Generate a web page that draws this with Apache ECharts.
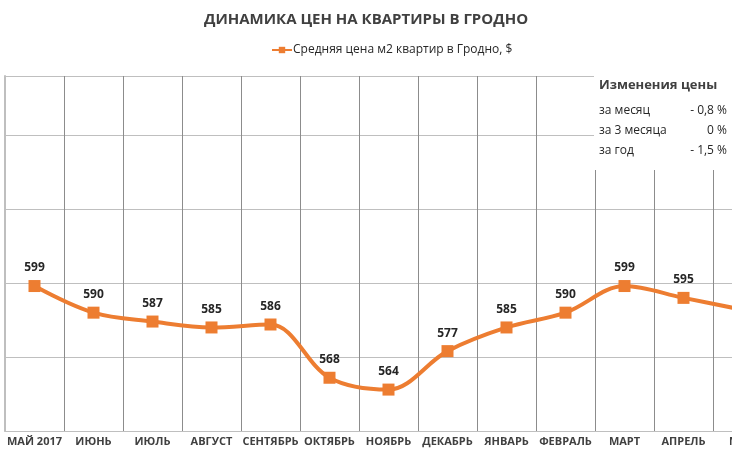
<!DOCTYPE html>
<html><head><meta charset="utf-8">
<script src="https://cdn.jsdelivr.net/npm/echarts@6/dist/echarts.min.js"></script>
<style>html,body{margin:0;padding:0;background:#fff}#c{width:732px;height:466px}</style>
</head><body><div id="c"></div>
<script>
const categories = ['МАЙ 2017','ИЮНЬ','ИЮЛЬ','АВГУСТ','СЕНТЯБРЬ','ОКТЯБРЬ','НОЯБРЬ','ДЕКАБРЬ','ЯНВАРЬ','ФЕВРАЛЬ','МАРТ','АПРЕЛЬ','МАЙ'];
const prices = [599,590,587,585,586,568,564,577,585,590,599,595,591];
const seriesName = 'Средняя цена м2 квартир в Гродно, $';
const titleText = 'ДИНАМИКА ЦЕН НА КВАРТИРЫ В ГРОДНО';
const boxTitle = 'Изменения цены';
const boxRows = ['за месяц','за 3 месяца','за год'];
const boxValues = ['- 0,8 %','0 %','- 1,5 %'];

const font = '"Open Sans", sans-serif';
const chart = echarts.init(document.getElementById('c'), null, {renderer:'canvas'});
const graphics = [
  {type:'rect', shape:{x:594,y:74,width:140,height:96}, style:{fill:'#fff'}, z:100},
  {type:'text', x:599, y:79, z:101, style:{text:boxTitle, fill:'#404040', font:'bold 13px '+font}}
];
boxRows.forEach((r,i)=>{
  graphics.push({type:'text', x:599, y:105+i*20, z:101, style:{text:r, fill:'#262626', font:'12px '+font}});
  graphics.push({type:'text', x:727, y:105+i*20, z:101, style:{text:boxValues[i], fill:'#262626', font:'12px '+font, align:'right'}});
});
chart.setOption({
  animation:false,
  title:{text:titleText,left:'center',top:7,textStyle:{fontFamily:font,fontWeight:'bold',fontSize:15,color:'#404040'}},
  legend:{top:39,left:266,itemWidth:20,itemHeight:8,itemGap:4,textStyle:{fontFamily:font,fontSize:12,color:'#262626',padding:[0,0,0,-4]},data:[seriesName]},
  grid:{left:5,top:76,bottom:35,width:767,containLabel:false,outerBoundsMode:'none'},
  xAxis:{type:'category',data:categories,boundaryGap:true,
    axisLine:{lineStyle:{color:'#bfbfbf',width:1}},axisTick:{show:false},
    axisLabel:{interval:0,margin:5,fontFamily:font,fontWeight:'bold',fontSize:11,color:'#404040'},
    splitLine:{show:true,lineStyle:{color:'#8c8c8c',width:1}}},
  yAxis:{type:'value',min:550,max:670,interval:25,
    axisLabel:{show:false},axisTick:{show:false},
    axisLine:{show:true,lineStyle:{color:'#bfbfbf',width:2}},
    splitLine:{show:true,lineStyle:{color:'#bfbfbf',width:1}}},
  series:[{name:seriesName,type:'line',data:prices,smooth:0.35,clip:false,
    symbol:'rect',symbolSize:12,
    lineStyle:{color:'#ED7D31',width:4},
    itemStyle:{color:'#ED7D31'},
    labelLayout:{hideOverlap:false},
    label:{show:true,position:'top',distance:6,fontFamily:font,fontWeight:'bold',fontSize:12,color:'#262626'}}],
  graphic:graphics
});
</script></body></html>
